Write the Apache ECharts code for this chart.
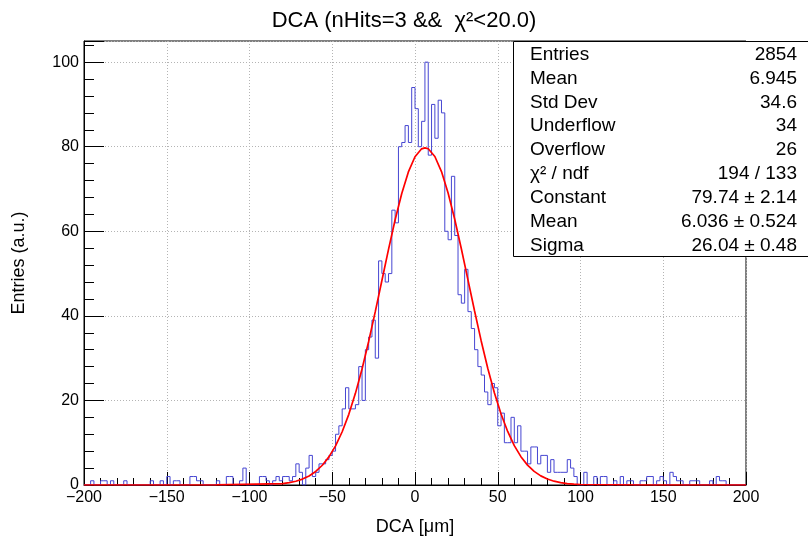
<!DOCTYPE html>
<html><head><meta charset="utf-8">
<script src="https://cdn.jsdelivr.net/npm/echarts@6/dist/echarts.min.js"></script>
<style>html,body{margin:0;padding:0;background:#fff}#c{width:808px;height:541px}</style>
</head><body><div id="c"></div>
<script>
// Histogram: 200 bins of 2 um from -200 to 200
const histMin = -200;
const binWidth = 2;
const counts = [
  // -200 .. -102
  0,0,1,0,0,1,1,0,1,0, 0,0,1,0,0,0,0,0,0,0,
  1,0,0,1,0,2,0,1,1,0, 0,0,2,2,1,1,0,0,0,0,
  1,0,0,2,2,0,0,1,4,0,
  // -100 .. -2
  0,0,0,2,2,1,0,1,2,1,
  2,2,1,2,5,3,0,4,7,2,
  3,5,5,6,7,8,12,14,18,23,
  18,18,19,28,20,32,35,39,30,53,
  50,48,50,65,62,80,81,85,81,94,
  // 0 .. 98
  89,80,86,100,78,90,82,91,88,60,
  58,73,59,45,43,51,41,37,32,28,
  26,22,19,24,23,14,17,10,10,16,
  10,14,8,8,5,9,9,5,7,7,
  3,6,3,3,3,3,6,4,2,0,
  // 100 .. 198
  0,3,0,0,2,0,2,2,0,0,
  1,0,2,0,1,1,0,0,1,1,
  2,2,0,1,2,1,0,3,2,1,
  1,0,0,1,1,1,0,0,0,1,
  0,2,1,1,0,0,0,0,0,0
];
// Gaussian fit curve
const fitX = [-200,-120,-80,-76,-72,-68,-64,-60,-56,-52,-48,-44,-40,-36,-32,-28,-24,-20,-16,-12,-8,-4,0,4,6,8,12,16,20,24,28,32,36,40,44,48,52,56,60,64,68,72,76,80,84,88,92,96,100,140,200];
const fitY = [0,0.01,0.34,0.56,0.89,1.40,2.14,3.20,4.67,6.65,9.26,12.59,16.71,21.67,27.43,33.95,40.99,48.36,55.73,62.73,68.95,74.03,77.63,79.50,79.74,79.51,77.68,74.12,69.06,62.86,55.88,48.51,41.14,34.07,27.56,21.77,16.79,12.66,9.31,6.70,4.70,3.22,2.16,1.41,0.90,0.56,0.34,0.20,0.12,0,0];
const xTicks = [-200,-150,-100,-50,0,50,100,150,200];
const yTicks = [0,20,40,60,80,100];
const statLabels = ['Entries','Mean','Std Dev','Underflow','Overflow','\u03c7\u00b2 / ndf','Constant','Mean','Sigma'];
const statValues = ['2854','6.945','34.6','34','26','194 / 133','79.74 \u00b1 2.14','6.036 \u00b1 0.524','26.04 \u00b1 0.48'];

const FONT = 'Liberation Sans';
const histData = counts.map((c, i) => [histMin + i * binWidth, c]);
histData.push([histMin + counts.length * binWidth, counts[counts.length - 1]]);
const fitData = fitX.map((x, i) => [x, fitY[i]]);

const graphics = [{
  type: 'rect', z: 100,
  shape: { x: 513.5, y: 41.5, width: 330, height: 215 },
  style: { fill: '#fff', stroke: '#000', lineWidth: 1 }
}];
statLabels.forEach((t, i) => {
  graphics.push({ type: 'text', z: 101, x: 530, y: 54.5 + i * 23.9,
    style: { text: t, fontFamily: FONT, fontSize: 19, fill: '#000', textAlign: 'left', textVerticalAlign: 'middle' } });
  graphics.push({ type: 'text', z: 101, x: 797, y: 54.5 + i * 23.9,
    style: { text: statValues[i], fontFamily: FONT, fontSize: 19, fill: '#000', textAlign: 'right', textVerticalAlign: 'middle' } });
});

const chart = echarts.init(document.getElementById('c'), null, { renderer: 'canvas' });
chart.setOption({
  animation: false,
  backgroundColor: '#fff',
  title: {
    text: 'DCA (nHits=3 &&  \u03c7\u00b2<20.0)', left: 'center', top: 5,
    textStyle: { fontFamily: FONT, fontSize: 22, fontWeight: 'normal', color: '#000' }
  },
  grid: { left: 84, right: 62, top: 41, bottom: 55, show: true, borderColor: '#000', borderWidth: 1, backgroundColor: 'transparent' },
  xAxis: {
    type: 'value', min: xTicks[0], max: xTicks[xTicks.length - 1], interval: 50,
    name: 'DCA [\u03bcm]', nameLocation: 'middle', nameGap: 33,
    nameTextStyle: { fontFamily: FONT, fontSize: 18, color: '#000' },
    axisLine: { show: true, onZero: false, lineStyle: { color: '#000', width: 1 } },
    axisTick: { show: true, inside: true, length: 13, lineStyle: { color: '#000' } },
    minorTick: { show: true, splitNumber: 5, length: 7, lineStyle: { color: '#000' } },
    axisLabel: { margin: 5, fontFamily: FONT, fontSize: 16, color: '#000',
      formatter: v => (v < 0 ? '\u2212' + Math.abs(v) : String(v)) },
    splitLine: { show: true, lineStyle: { color: '#b4b4b4', type: [1, 2], width: 1 } }
  },
  yAxis: {
    type: 'value', min: yTicks[0], max: 105, interval: 20,
    name: 'Entries (a.u.)', nameLocation: 'middle', nameGap: 56,
    nameTextStyle: { fontFamily: FONT, fontSize: 18, color: '#000' },
    axisLine: { show: true, onZero: false, lineStyle: { color: '#000', width: 1 } },
    axisTick: { show: true, inside: true, length: 20, lineStyle: { color: '#000' } },
    minorTick: { show: true, splitNumber: 5, length: 10, lineStyle: { color: '#000' } },
    axisLabel: { margin: 5, fontFamily: FONT, fontSize: 16, color: '#000',
      showMaxLabel: false },
    splitLine: { show: true, lineStyle: { color: '#b4b4b4', type: [1, 2], width: 1 } }
  },
  series: [
    { type: 'line', name: 'hist', data: histData, step: 'end', showSymbol: false, symbol: 'none',
      lineStyle: { color: '#4646d2', width: 1 }, z: 3, clip: true },
    { type: 'line', name: 'fit', data: fitData, showSymbol: false, symbol: 'none', smooth: false,
      lineStyle: { color: '#ff0000', width: 1.7 }, z: 4, clip: true }
  ],
  graphic: graphics
});
</script></body></html>
